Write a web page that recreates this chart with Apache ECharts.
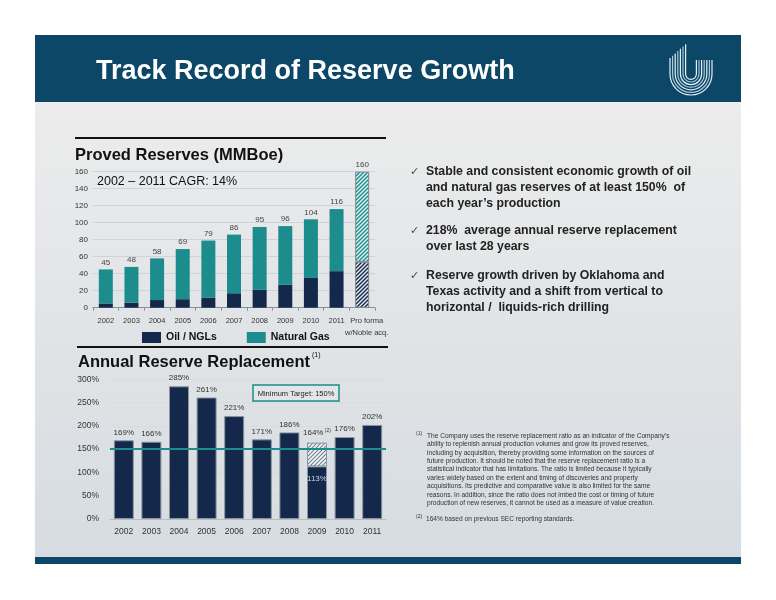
<!DOCTYPE html>
<html>
<head>
<meta charset="utf-8">
<script src="https://cdn.jsdelivr.net/npm/echarts@6/dist/echarts.min.js"></script>
<style>
html,body{margin:0;padding:0;background:#fff;}
#chart{width:776px;height:600px;}
</style>
</head>
<body>
<div id="chart"></div>
<script>
// ---- data ----
const years = ['2002','2003','2004','2005','2006','2007','2008','2009','2010','2011'];
const topCategories = ['2002','2003','2004','2005','2006','2007','2008','2009','2010','2011','Pro forma\nw/Noble acq.'];
const oilNgl = [5, 6, 9, 10, 12, 17, 21, 27, 35, 43, 54];
const naturalGas = [40, 42, 49, 59, 67, 69, 74, 69, 69, 73, 106];
const totalReserves = [45, 48, 58, 69, 79, 86, 95, 96, 104, 116, 160];
const replacement = [169, 166, 285, 261, 221, 171, 186, 113, 176, 202];
const replacementPrevSec = [null, null, null, null, null, null, null, 164, null, null];
const minimumTarget = 150;

const NAVY = '#13284a';
const TEAL = '#1d8c8c';
const FONT = '"Liberation Sans", Arial, sans-serif';

function hatch(bg, fg, w) {
  const c = document.createElement('canvas');
  c.width = 4; c.height = 4;
  const g = c.getContext('2d');
  g.fillStyle = bg; g.fillRect(0, 0, 4, 4);
  g.strokeStyle = fg; g.lineWidth = w;
  g.beginPath();
  g.moveTo(0, 4); g.lineTo(4, 0);
  g.moveTo(-1, 1); g.lineTo(1, -1);
  g.moveTo(3, 5); g.lineTo(5, 3);
  g.stroke();
  return { image: c, repeat: 'repeat' };
}
const hatchTeal = hatch('#e3f2f2', TEAL, 1.4);
const hatchNavy = hatch('#e6eaf0', NAVY, 1.4);
const hatch2009 = hatch('#f4f6f8', '#6f7f96', 1.1);

// build series data
const oilData = oilNgl.map((v, i) => i === 10
  ? { value: v, itemStyle: { color: hatchNavy, borderColor: '#7d8790', borderWidth: 1 } } : v);
const gasData = naturalGas.map((v, i) => i === 10
  ? { value: v, itemStyle: { color: hatchTeal, borderColor: '#7d8790', borderWidth: 1 } } : v);
const repData = replacement.map((v, i) => replacementPrevSec[i] != null
  ? { value: v, label: { position: 'insideTop', color: '#c9d9ea', distance: 8 } } : v);
const prevData = replacementPrevSec.map((v, i) => v == null ? null : v - replacement[i]);

// ---- graphics ----
const g = [];
g.push({ type: 'rect', z: -10, shape: { x: 35, y: 102, width: 706, height: 455 },
  style: { fill: { type: 'linear', x: 0, y: 0, x2: 0, y2: 1,
    colorStops: [{ offset: 0, color: '#ececec' }, { offset: 1, color: '#d6dce1' }] } } });
g.push({ type: 'rect', z: -9, shape: { x: 35, y: 35, width: 706, height: 67 }, style: { fill: '#0c4767' } });
g.push({ type: 'rect', z: -9, shape: { x: 35, y: 557, width: 706, height: 7 }, style: { fill: '#0c4767' } });
g.push({ type: 'text', x: 96, y: 72, style: { text: 'Track Record of Reserve Growth', fill: '#ffffff',
  font: 'bold 27px ' + FONT, textVerticalAlign: 'middle' } });
// logo
const cx = 691, cy = 74;
for (let i = 0; i < 7; i++) {
  const r = 21 - i * 2.6;
  const topL = 58 - i * 2.3;
  const stroke = i % 2 === 0 ? '#e6f0f6' : '#a9c6da';
  g.push({ type: 'arc', shape: { cx: cx, cy: cy, r: r, startAngle: 0, endAngle: Math.PI, clockwise: true },
    style: { stroke: stroke, lineWidth: 1.2, fill: null } });
  g.push({ type: 'line', shape: { x1: cx - r, y1: topL, x2: cx - r, y2: cy }, style: { stroke: stroke, lineWidth: 1.2 } });
  g.push({ type: 'line', shape: { x1: cx + r, y1: 60, x2: cx + r, y2: cy }, style: { stroke: stroke, lineWidth: 1.2 } });
}
// section rules & titles
g.push({ type: 'line', shape: { x1: 75, y1: 138, x2: 386, y2: 138 }, style: { stroke: '#111', lineWidth: 2 } });
g.push({ type: 'line', shape: { x1: 77, y1: 347, x2: 388, y2: 347 }, style: { stroke: '#111', lineWidth: 2 } });
g.push({ type: 'text', x: 75, y: 155, style: { text: 'Proved Reserves (MMBoe)', fill: '#111',
  font: 'bold 16.5px ' + FONT, textVerticalAlign: 'middle' } });
g.push({ type: 'text', x: 78, y: 362, style: { text: 'Annual Reserve Replacement', fill: '#111',
  font: 'bold 16.5px ' + FONT, textVerticalAlign: 'middle' } });
g.push({ type: 'text', x: 312, y: 355, style: { text: '(1)', fill: '#111', font: '7px ' + FONT, textVerticalAlign: 'middle' } });
g.push({ type: 'text', x: 97, y: 182, style: { text: '2002 \u2013 2011 CAGR: 14%', fill: '#111',
  font: '12.5px ' + FONT, textVerticalAlign: 'middle' } });
// minimum target box
g.push({ type: 'rect', shape: { x: 253, y: 385, width: 86, height: 16 }, style: { fill: 'rgba(255,255,255,0.15)', stroke: TEAL, lineWidth: 1.5 } });
g.push({ type: 'text', x: 296, y: 393.5, style: { text: 'Minimum Target: 150%', fill: '#222',
  font: '7.5px ' + FONT, textAlign: 'center', textVerticalAlign: 'middle' } });
// bullets
const bullets = [
  [172, ['Stable and consistent economic growth of oil', 'and natural gas reserves of at least 150%  of', 'each year\u2019s production']],
  [231, ['218%  average annual reserve replacement', 'over last 28 years']],
  [276, ['Reserve growth driven by Oklahoma and', 'Texas activity and a shift from vertical to', 'horizontal /  liquids-rich drilling']]
];
bullets.forEach(([y0, lines]) => {
  g.push({ type: 'text', x: 410, y: y0, style: { text: '\u2713', fill: '#4a4a4a', font: '11px "DejaVu Sans", sans-serif', textVerticalAlign: 'middle' } });
  lines.forEach((t, k) => {
    g.push({ type: 'text', x: 426, y: y0 + k * 16, style: { text: t, fill: '#222',
      font: 'bold 12.3px ' + FONT, textVerticalAlign: 'middle' } });
  });
});
// footnotes
const notes = [
  'The Company uses the reserve replacement ratio as an indicator of the Company\u2019s',
  'ability to replenish annual production volumes and grow its proved reserves,',
  'including by acquisition, thereby providing some information on the sources of',
  'future production. It should be noted that the reserve replacement ratio is a',
  'statistical indicator that has limitations. The ratio is limited because it typically',
  'varies widely based on the extent and timing of discoveries and property',
  'acquisitions. Its predictive and comparative value is also limited for the same',
  'reasons. In addition, since the ratio does not imbed the cost or timing of future',
  'production of new reserves, it cannot be used as a measure of value creation.'
];
g.push({ type: 'text', x: 416, y: 434, style: { text: '(1)', fill: '#333', font: '5px ' + FONT, textVerticalAlign: 'middle' } });
notes.forEach((t, k) => {
  g.push({ type: 'text', x: 427, y: 436 + k * 8.4, style: { text: t, fill: '#333', font: '6.6px ' + FONT, textVerticalAlign: 'middle' } });
});
g.push({ type: 'text', x: 416, y: 517, style: { text: '(2)', fill: '#333', font: '5px ' + FONT, textVerticalAlign: 'middle' } });
g.push({ type: 'text', x: 426, y: 519, style: { text: '164% based on previous SEC reporting standards.', fill: '#333', font: '6.6px ' + FONT, textVerticalAlign: 'middle' } });

const chart = echarts.init(document.getElementById('chart'), null, { renderer: 'canvas' });
chart.setOption({
  backgroundColor: '#ffffff',
  animation: false,
  textStyle: { fontFamily: FONT },
  graphic: { elements: g },
  legend: {
    data: ['Oil / NGLs', 'Natural Gas'],
    left: 137, top: 327, icon: 'rect', itemWidth: 19, itemHeight: 11, itemGap: 30,
    textStyle: { fontFamily: FONT, fontWeight: 'bold', fontSize: 10.5, color: '#111' },
    selectedMode: false
  },
  grid: [
    { left: 93, top: 171.7, width: 282, height: 136 },
    { left: 110, top: 379.3, width: 276, height: 139.7 }
  ],
  xAxis: [
    { type: 'category', gridIndex: 0, data: topCategories,
      axisLine: { lineStyle: { color: '#8a9096' } },
      axisTick: { show: true, length: 3, lineStyle: { color: '#8a9096' } },
      axisLabel: { interval: 0, fontSize: 7.5, color: '#333', margin: 7, lineHeight: 12, fontFamily: FONT,
        formatter: (v, i) => i === 10 ? '{p|' + v.split('\n').join('}\n{p|') + '}' : v,
        rich: { p: { fontSize: 7.5, color: '#333', lineHeight: 12, padding: [0, 0, 0, 9], fontFamily: FONT } } } },
    { type: 'category', gridIndex: 1, data: years,
      axisLine: { lineStyle: { color: '#b8bec4' } },
      axisTick: { show: false },
      axisLabel: { interval: 0, fontSize: 8.5, color: '#333', margin: 8, fontFamily: FONT } }
  ],
  yAxis: [
    { type: 'value', gridIndex: 0, min: 0, max: 160, interval: 20,
      axisLine: { show: false }, axisTick: { show: false },
      splitLine: { lineStyle: { color: '#c9ced3', width: 0.8 } },
      axisLabel: { fontSize: 8, color: '#333', margin: 5, fontFamily: FONT } },
    { type: 'value', gridIndex: 1, min: 0, max: 300, interval: 50,
      axisLine: { show: false }, axisTick: { show: false },
      splitLine: { lineStyle: { color: '#d3d8dc', width: 0.6 } },
      axisLabel: { fontSize: 8.5, color: '#333', margin: 11, formatter: '{value}%', fontFamily: FONT } }
  ],
  series: [
    { name: 'Oil / NGLs', type: 'bar', xAxisIndex: 0, yAxisIndex: 0, stack: 'reserves',
      barWidth: 14, data: oilData, itemStyle: { color: NAVY } },
    { name: 'Natural Gas', type: 'bar', xAxisIndex: 0, yAxisIndex: 0, stack: 'reserves',
      barWidth: 14, data: gasData, itemStyle: { color: TEAL },
      label: { show: true, position: 'top', distance: 3, fontSize: 8, color: '#444', fontFamily: FONT,
        formatter: p => String(totalReserves[p.dataIndex]) } },
    { name: 'Replacement', type: 'bar', xAxisIndex: 1, yAxisIndex: 1, stack: 'rep',
      barWidth: 20, data: repData,
      itemStyle: { color: NAVY, borderColor: '#8c959e', borderWidth: 1 },
      label: { show: true, position: 'top', distance: 4, fontSize: 8, color: '#333', fontFamily: FONT,
        formatter: p => p.value + '%' },
      markLine: { silent: true, symbol: 'none', label: { show: false },
        lineStyle: { color: TEAL, width: 2, type: 'solid' },
        data: [{ yAxis: minimumTarget }] } },
    { name: 'Prior SEC', type: 'bar', xAxisIndex: 1, yAxisIndex: 1, stack: 'rep',
      barWidth: 20, data: prevData,
      itemStyle: { color: hatch2009, borderColor: '#8c959e', borderWidth: 1 },
      label: { show: true, position: 'top', distance: 4, fontFamily: FONT,
        formatter: p => '{a|' + replacementPrevSec[p.dataIndex] + '%}{s| (2)}',
        rich: { a: { fontSize: 8, color: '#333', fontFamily: FONT },
                s: { fontSize: 5, color: '#333', verticalAlign: 'top', padding: [0, 0, 6, 0], fontFamily: FONT } } } }
  ]
});
</script>
</body>
</html>
